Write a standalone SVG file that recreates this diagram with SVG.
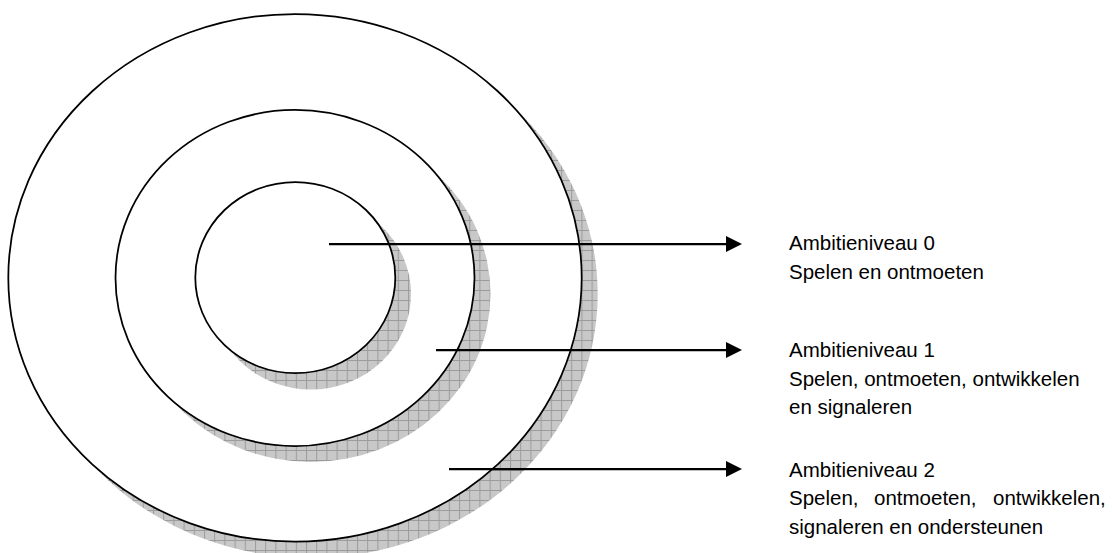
<svg xmlns="http://www.w3.org/2000/svg" width="1112" height="553" viewBox="0 0 1112 553">
  <style>
    .shadow { fill: url(#grid); stroke: none; }
    .ring { fill: #ffffff; stroke: #000000; stroke-width: 1.75; }
    .conn { stroke: #000000; stroke-width: 2.25; fill: none; }
    .head { fill: #000000; }
    .lbl { font-family: "Liberation Sans", Arial, Helvetica, sans-serif; font-size: 20.5px; fill: #000000; }
  </style>
  <defs>
    <pattern id="grid" patternUnits="userSpaceOnUse" x="0" y="0" width="10.2" height="10">
      <rect width="10.2" height="10" fill="#c8c8c8"/>
      <path d="M0 0.5 H10.2 M0.5 0 V10" stroke="#9c9c9c" stroke-width="1" fill="none"/>
    </pattern>
  </defs>
  <rect width="1112" height="553" fill="#ffffff"/>

  <g id="ring-2">
    <ellipse class="shadow" cx="311" cy="294" rx="286.7" ry="263.8"/>
    <ellipse class="ring" cx="295" cy="277.8" rx="286.7" ry="263.8"/>
  </g>
  <g id="ring-1">
    <ellipse class="shadow" cx="311" cy="294" rx="179.5" ry="168"/>
    <ellipse class="ring" cx="295" cy="278" rx="179.5" ry="168"/>
  </g>
  <g id="ring-0">
    <ellipse class="shadow" cx="311" cy="294" rx="100" ry="95.6"/>
    <ellipse class="ring" cx="295.3" cy="277.6" rx="100" ry="95.6"/>
  </g>

  <g id="connectors">
    <line class="conn" x1="329" y1="244" x2="728" y2="244"/>
    <polygon class="head" points="726,236 742,244 726,252"/>
    <line class="conn" x1="436" y1="350" x2="728" y2="350"/>
    <polygon class="head" points="726,342 742,350 726,358"/>
    <line class="conn" x1="449" y1="469" x2="728" y2="469"/>
    <polygon class="head" points="726,461 742,469 726,477"/>
  </g>

  <g id="label-0" class="lbl">
    <text x="789" y="250">Ambitieniveau 0</text>
    <text x="789" y="278.5">Spelen en ontmoeten</text>
  </g>
  <g id="label-1" class="lbl">
    <text x="789" y="357">Ambitieniveau 1</text>
    <text x="789" y="385.5">Spelen, ontmoeten, ontwikkelen</text>
    <text x="789" y="414">en signaleren</text>
  </g>
  <g id="label-2" class="lbl">
    <text x="789" y="476.5">Ambitieniveau 2</text>
    <text y="505"><tspan x="789">Spelen,</tspan><tspan x="874">ontmoeten,</tspan><tspan x="993">ontwikkelen,</tspan></text>
    <text x="789" y="533.5">signaleren en ondersteunen</text>
  </g>
</svg>
